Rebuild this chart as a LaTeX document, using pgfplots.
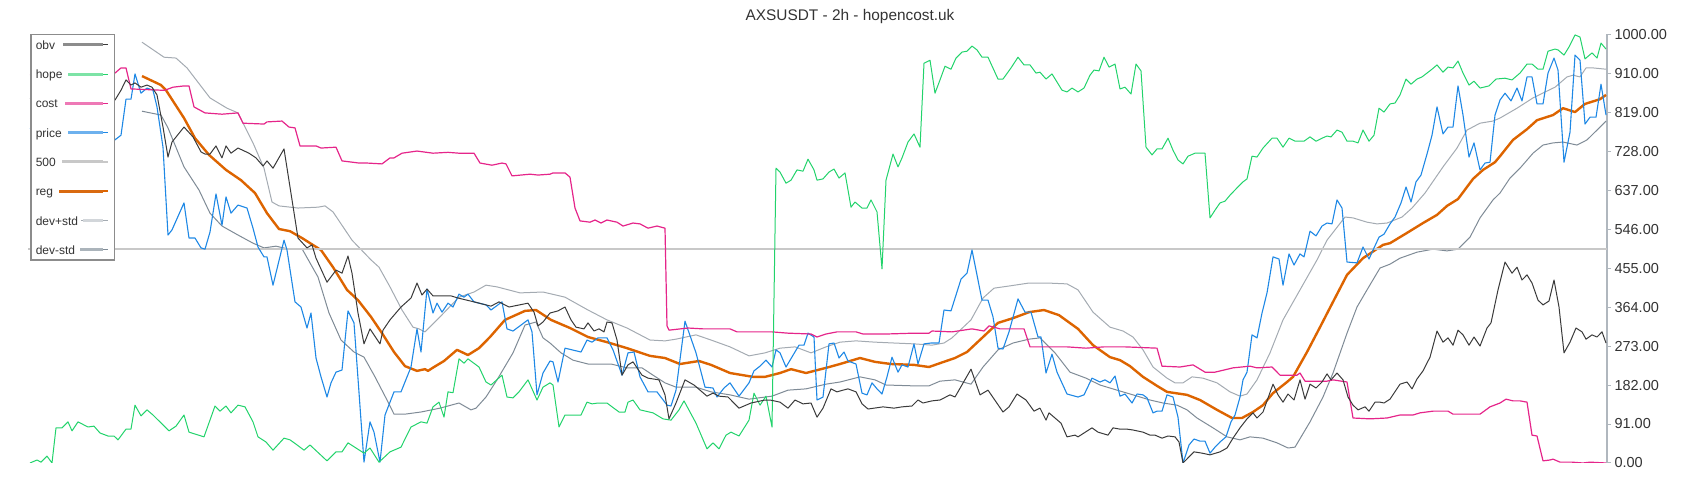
\documentclass[border=0pt]{standalone}
\usepackage{fontspec}
\setmainfont{Liberation Sans}
\usepackage{pgfplots}
\pgfplotsset{compat=1.18}
\definecolor{obvc}{HTML}{3A3A3A}
\definecolor{hopec}{HTML}{22D36B}
\definecolor{costc}{HTML}{E5258A}
\definecolor{pricec}{HTML}{1E88E5}
\definecolor{fivec}{HTML}{C8C8C8}
\definecolor{regc}{HTML}{DD6400}
\definecolor{devpc}{HTML}{A4ABB2}
\definecolor{devmc}{HTML}{7F8B96}
\definecolor{obvL}{HTML}{8C8C8C}
\definecolor{hopeL}{HTML}{7DE3A6}
\definecolor{costL}{HTML}{EE79B6}
\definecolor{priceL}{HTML}{6DB1EE}
\definecolor{fiveL}{HTML}{C8C8C8}
\definecolor{regL}{HTML}{D96A10}
\definecolor{devpL}{HTML}{D2D6DA}
\definecolor{devmL}{HTML}{ABB4BB}
\definecolor{axisc}{HTML}{B0B7BE}
\definecolor{labc}{HTML}{333333}
\definecolor{legc}{HTML}{8C8C8C}
\pgfplotsset{legimg/.style 2 args={legend image code/.code={\path (0pt,0pt) -- (27pt,0pt); \draw[overlay,draw=#1,line width=3pt] (#2,0pt) -- (22pt,0pt);}}}
\begin{document}
\begin{tikzpicture}
\path (0pt,0pt) rectangle (1700pt,500pt);
\begin{axis}[
 at={(28pt,37pt)}, anchor=south west,
 scale only axis, width=1579pt, height=428.5pt,
 xmin=28, xmax=1607, ymin=0, ymax=1000,
 axis x line=none, axis y line=right,
 y axis line style={-, draw=axisc, line width=1.5pt},
 ytick={0,91,182,273,364,455,546,637,728,819,910,1000},
 ytick style={draw=axisc, line width=1pt},
 ytick align=outside, major tick length=4pt,
 scaled y ticks=false,
 yticklabel style={font=\fontsize{14.5}{16}\selectfont, text=labc,
   /pgf/number format/fixed, /pgf/number format/fixed zerofill,
   /pgf/number format/precision=2, /pgf/number format/1000 sep={},
   /pgf/number format/assume math mode=true},
 title={AXSUSDT - 2h - hopencost.uk},
 title style={at={(0.5206,1.0175)}, anchor=base, font=\fontsize{15.4}{18}\selectfont, text=labc, inner sep=0pt},
 legend cell align=left,
 legend plot pos=right,
 reverse legend,
 legend style={at={(0.00127,1.0012)}, anchor=north west, draw=legc, line width=1.5pt, fill=white,
   inner xsep=5pt, inner ysep=4pt, row sep=17.3pt, column sep=2pt,
   font=\fontsize{12}{14}\selectfont, text=labc,
   nodes={inner sep=0pt, text height=10.5pt, text depth=1.5pt}},
 every axis plot/.append style={line join=round, mark=none},
]
% dev-std
\addplot[draw=devmc, line width=1pt, legimg={devmL}{-1pt}] coordinates {
(142,821)(161,812)(168,782)(184,691)(199,637)(210,583)(222,553)(238,532)(253,513)(264,502)(276,506)(287,500)(302,500)(318,434)(329,350)(341,287)(354,259)(364,247)(375,201)(387,147)(394,114)(405,114)(421,119)(440,128)(459,140)(471,124)(476,128)(486,154)(497,194)(513,257)(525,322)(536,329)(543,292)(550,280)(561,257)(573,240)(588,231)(611,231)(627,222)(642,222)(653,205)(665,187)(676,177)(696,177)(711,166)(730,159)(749,149)(772,156)(788,170)(806,173)(826,184)(840,189)(860,201)(875,194)(886,182)(914,180)(929,180)(940,191)(955,194)(971,184)(983,224)(998,264)(1013,280)(1029,289)(1040,292)(1055,257)(1070,212)(1086,198)(1100,182)(1117,170)(1133,159)(1150,147)(1163,140)(1177,135)(1187,124)(1197,105)(1213,82)(1227,61)(1240,54)(1250,61)(1263,58)(1277,47)(1288,35)(1295,37)(1310,96)(1323,154)(1333,210)(1347,303)(1357,364)(1367,404)(1380,455)(1390,464)(1400,478)(1417,492)(1433,499)(1447,495)(1458,499)(1470,527)(1480,572)(1493,614)(1500,630)(1510,665)(1520,688)(1533,723)(1543,742)(1553,747)(1563,749)(1577,742)(1587,754)(1597,777)(1606,798)
};
\addlegendentry{dev-std}
% dev+std
\addplot[draw=devpc, line width=1pt, legimg={devpL}{2pt}] coordinates {
(142,982)(164,947)(176,945)(187,922)(210,852)(227,828)(238,817)(253,747)(264,688)(272,609)(279,600)(298,595)(318,597)(325,600)(333,586)(352,520)(371,474)(379,457)(390,411)(402,357)(413,317)(419,313)(425,306)(440,341)(459,387)(474,399)(486,415)(497,411)(520,397)(543,399)(565,387)(588,357)(607,334)(627,315)(650,287)(665,285)(676,289)(696,299)(711,287)(730,271)(749,250)(765,257)(780,268)(795,271)(811,257)(826,271)(840,282)(856,285)(875,282)(894,280)(914,278)(932,275)(944,280)(952,292)(971,334)(983,385)(994,408)(1009,413)(1029,420)(1047,420)(1067,418)(1078,404)(1093,352)(1110,317)(1123,308)(1133,294)(1143,264)(1153,224)(1167,198)(1175,187)(1183,187)(1192,201)(1203,198)(1217,187)(1230,166)(1240,156)(1247,161)(1257,194)(1270,257)(1283,334)(1300,404)(1317,474)(1327,520)(1345,574)(1353,572)(1367,562)(1377,558)(1387,560)(1402,574)(1412,595)(1425,630)(1443,691)(1457,735)(1467,777)(1480,793)(1493,798)(1500,805)(1517,828)(1533,852)(1547,868)(1555,877)(1567,901)(1573,905)(1580,901)(1586,922)(1593,922)(1606,919)
};
\addlegendentry{dev+std}
% reg
\addplot[draw=regc, line width=2.4pt, legimg={regL}{-22pt}] coordinates {
(142,903)(161,882)(166,870)(184,805)(195,758)(209,719)(226,684)(241,660)(255,630)(267,583)(279,546)(290,541)(302,525)(321,497)(333,457)(347,404)(358,380)(371,341)(382,303)(394,259)(405,226)(417,215)(425,219)(428,215)(434,224)(444,238)(457,264)(468,252)(479,268)(490,294)(505,334)(525,355)(536,357)(551,334)(570,315)(588,294)(607,282)(627,268)(650,250)(665,245)(680,231)(699,238)(711,229)(730,210)(753,201)(765,201)(780,210)(791,219)(806,210)(826,222)(840,231)(860,245)(875,236)(891,231)(914,229)(929,224)(940,233)(955,245)(967,259)(983,294)(998,327)(1013,338)(1029,352)(1044,357)(1059,345)(1078,313)(1093,275)(1110,247)(1120,240)(1130,226)(1143,201)(1157,180)(1167,166)(1187,159)(1200,147)(1217,124)(1232,105)(1242,105)(1253,119)(1263,135)(1273,163)(1287,189)(1293,201)(1307,259)(1320,317)(1333,376)(1347,439)(1363,478)(1383,509)(1390,513)(1407,537)(1423,560)(1437,579)(1447,600)(1458,616)(1473,663)(1483,684)(1495,702)(1500,716)(1513,754)(1527,779)(1537,800)(1553,812)(1563,828)(1575,819)(1585,838)(1600,849)(1606,859)
};
\addlegendentry{reg}
% 500
\addplot[draw=fivec, line width=2pt, legimg={fiveL}{-19pt}] coordinates {(28,500)(1607,500)};
\addlegendentry{500}
% price
\addplot[draw=pricec, line width=1.1pt, legimg={priceL}{-13pt}] coordinates {
(30,780)(60,790)(90,770)(111,777)(115,754)(121,765)(126,849)(131,849)(135,908)(141,863)(147,875)(153,870)(157,831)(163,737)(168,532)(172,544)(184,607)(189,525)(195,525)(201,502)(205,499)(210,539)(216,628)(222,555)(226,621)(231,583)(238,602)(247,595)(253,548)(258,504)(264,481)(267,481)(273,415)(284,520)(287,497)(295,376)(301,364)(307,315)(311,350)(316,245)(321,201)(327,154)(331,187)(336,212)(342,217)(348,355)(354,327)(364,2)(370,96)(374,72)(380,2)(385,112)(394,166)(401,166)(411,224)(417,313)(421,259)(427,406)(433,350)(437,373)(442,352)(448,373)(453,364)(459,394)(464,387)(468,394)(474,376)(486,369)(491,357)(502,376)(507,313)(513,308)(528,334)(532,306)(537,159)(543,210)(550,238)(553,236)(558,189)(565,268)(581,259)(587,287)(592,282)(598,292)(607,292)(613,264)(622,205)(628,257)(634,259)(640,201)(648,166)(657,166)(667,135)(671,133)(676,170)(685,331)(696,257)(705,177)(713,175)(717,154)(724,175)(730,187)(739,156)(749,187)(754,215)(760,226)(766,240)(772,224)(776,264)(780,257)(786,224)(799,275)(804,275)(808,303)(814,294)(817,147)(823,154)(829,278)(834,280)(839,245)(844,259)(848,238)(856,231)(862,163)(867,159)(872,187)(877,173)(882,161)(887,201)(892,247)(898,212)(902,229)(908,224)(914,278)(918,231)(924,278)(931,280)(939,280)(944,357)(951,355)(961,429)(967,443)(972,497)(982,380)(988,380)(993,341)(998,268)(1003,266)(1009,306)(1018,383)(1025,352)(1031,352)(1038,294)(1041,294)(1046,210)(1052,254)(1057,212)(1067,161)(1078,154)(1084,159)(1092,198)(1100,189)(1105,194)(1110,187)(1115,203)(1120,156)(1125,161)(1132,140)(1137,161)(1143,159)(1147,152)(1153,117)(1157,121)(1162,121)(1167,159)(1173,154)(1178,107)(1183,0)(1189,42)(1194,56)(1200,51)(1205,51)(1210,23)(1215,37)(1220,49)(1226,61)(1231,96)(1235,112)(1240,154)(1243,194)(1247,212)(1252,299)(1257,292)(1262,350)(1267,397)(1273,481)(1279,476)(1283,415)(1289,488)(1294,462)(1300,488)(1304,481)(1310,541)(1316,530)(1322,553)(1327,560)(1332,558)(1337,614)(1342,595)(1347,469)(1357,467)(1363,504)(1369,476)(1374,502)(1379,527)(1384,534)(1390,558)(1395,574)(1401,607)(1406,644)(1411,609)(1416,656)(1421,672)(1427,721)(1432,765)(1437,831)(1443,768)(1448,784)(1453,784)(1458,880)(1463,812)(1469,714)(1474,747)(1480,684)(1485,700)(1490,702)(1495,812)(1500,847)(1505,863)(1511,845)(1517,875)(1522,845)(1527,901)(1532,901)(1537,838)(1543,838)(1548,910)(1554,945)(1558,917)(1564,702)(1570,772)(1575,952)(1580,940)(1585,791)(1590,807)(1596,807)(1601,884)(1606,812)
};
\addlegendentry{price}
% cost
\addplot[draw=costc, line width=1.2pt, legimg={costL}{-16pt}] coordinates {
(30,905)(60,912)(90,915)(111,912)(115,910)(121,922)(126,922)(131,873)(161,870)(165,870)(173,877)(184,880)(189,880)(194,831)(205,817)(222,814)(238,817)(243,793)(264,791)(267,796)(282,798)(289,784)(295,782)(300,740)(316,740)(321,735)(336,737)(342,705)(359,700)(367,700)(382,698)(390,712)(394,712)(402,723)(417,728)(433,723)(448,725)(459,723)(474,723)(480,700)(492,695)(502,700)(506,698)(512,670)(530,674)(538,672)(550,674)(553,677)(565,677)(570,667)(575,595)(580,565)(590,562)(595,567)(601,560)(607,567)(617,562)(623,553)(633,560)(640,558)(648,548)(657,553)(665,548)(667,320)(669,310)(688,315)(703,313)(714,313)(730,313)(737,306)(757,306)(772,306)(788,303)(811,301)(817,294)(826,301)(837,306)(856,306)(863,301)(886,301)(914,303)(929,303)(932,308)(952,306)(972,313)(984,308)(989,320)(1000,313)(1024,313)(1030,271)(1047,271)(1067,271)(1086,268)(1104,271)(1125,271)(1157,268)(1162,226)(1180,224)(1193,229)(1205,212)(1215,212)(1233,222)(1250,226)(1257,222)(1272,224)(1280,205)(1297,205)(1300,210)(1305,191)(1327,191)(1333,194)(1347,189)(1353,105)(1370,103)(1387,105)(1400,112)(1413,112)(1420,117)(1433,121)(1448,121)(1453,114)(1480,114)(1490,131)(1500,140)(1506,149)(1513,145)(1520,145)(1527,142)(1532,65)(1537,63)(1543,5)(1550,7)(1553,9)(1560,2)(1572,2)(1583,0)(1590,2)(1606,0)
};
\addlegendentry{cost}
% hope
\addplot[draw=hopec, line width=1pt, legimg={hopeL}{-13pt}] coordinates {
(30,0)(37,7)(41,2)(47,16)(52,0)(56,82)(62,82)(68,96)(72,75)(78,96)(88,84)(94,86)(100,70)(108,63)(114,63)(118,54)(126,79)(131,79)(135,135)(141,110)(147,124)(153,112)(169,75)(176,86)(184,112)(189,72)(204,61)(215,133)(220,121)(226,133)(231,117)(238,135)(245,131)(253,96)(258,61)(266,49)(273,30)(284,58)(290,54)(296,44)(304,30)(310,42)(327,5)(336,26)(342,26)(348,47)(364,23)(370,35)(379,2)(390,26)(401,37)(411,84)(421,96)(427,93)(433,131)(439,142)(444,107)(448,166)(453,164)(459,243)(464,233)(468,243)(479,224)(486,189)(491,182)(502,205)(507,154)(513,152)(519,166)(528,194)(537,147)(543,177)(550,187)(553,182)(559,84)(565,112)(581,112)(587,142)(592,138)(598,140)(607,140)(619,119)(625,119)(628,142)(633,147)(640,124)(653,117)(663,103)(671,100)(679,124)(684,145)(696,93)(707,33)(713,47)(719,33)(726,65)(731,72)(739,63)(749,100)(754,163)(760,135)(766,156)(772,84)(776,688)(780,679)(786,653)(791,660)(797,684)(803,681)(808,709)(814,684)(817,660)(823,663)(829,679)(834,686)(839,665)(845,677)(851,597)(855,609)(862,595)(867,595)(871,614)(877,586)(882,453)(886,660)(893,721)(898,691)(902,712)(908,749)(914,768)(920,737)(924,933)(930,940)(935,863)(940,894)(945,926)(951,919)(956,945)(962,959)(967,961)(972,973)(977,964)(982,947)(988,947)(998,896)(1003,896)(1011,922)(1018,947)(1024,929)(1030,929)(1036,910)(1040,912)(1046,896)(1052,908)(1062,870)(1067,866)(1072,875)(1078,866)(1084,875)(1090,905)(1094,917)(1099,915)(1104,947)(1109,924)(1115,931)(1120,873)(1125,877)(1131,861)(1136,931)(1141,915)(1146,737)(1152,719)(1157,733)(1162,733)(1168,758)(1173,730)(1178,707)(1183,698)(1188,716)(1195,723)(1205,723)(1210,572)(1215,590)(1220,607)(1225,611)(1230,625)(1237,642)(1243,656)(1247,663)(1252,716)(1257,714)(1263,735)(1272,758)(1277,758)(1283,737)(1289,758)(1295,751)(1304,751)(1310,761)(1316,751)(1322,758)(1327,763)(1331,761)(1337,777)(1342,772)(1347,751)(1353,751)(1358,747)(1363,777)(1369,751)(1374,765)(1379,828)(1384,819)(1390,838)(1395,840)(1400,859)(1406,896)(1411,884)(1417,896)(1422,901)(1427,910)(1432,919)(1437,929)(1443,912)(1448,924)(1453,922)(1458,938)(1463,910)(1469,882)(1474,891)(1480,875)(1489,880)(1496,896)(1505,898)(1512,894)(1520,910)(1527,931)(1532,931)(1538,919)(1543,919)(1548,961)(1555,966)(1558,964)(1564,952)(1569,971)(1575,999)(1580,994)(1585,943)(1592,957)(1597,945)(1601,980)(1606,966)
};
\addlegendentry{hope}
% obv
\addplot[draw=obvc, line width=1pt, legimg={obvL}{-18pt}] coordinates {
(30,850)(60,860)(90,845)(111,861)(115,847)(121,870)(126,894)(131,882)(135,887)(141,877)(147,882)(152,877)(157,859)(163,784)(168,714)(172,749)(184,784)(193,761)(201,726)(205,721)(210,721)(216,740)(222,712)(226,740)(231,723)(238,735)(249,723)(256,712)(263,693)(267,705)(273,688)(284,733)(290,644)(298,525)(307,502)(312,509)(316,478)(327,422)(336,450)(342,443)(348,483)(352,443)(358,350)(364,278)(370,313)(380,278)(383,310)(390,334)(401,364)(411,385)(417,420)(422,392)(427,406)(433,390)(451,390)(458,385)(474,376)(491,366)(499,376)(509,364)(528,373)(534,352)(538,320)(543,329)(550,350)(558,355)(565,364)(571,334)(576,317)(584,313)(588,327)(594,308)(599,313)(604,306)(607,329)(612,327)(617,287)(622,205)(628,229)(633,236)(642,205)(648,198)(659,194)(665,159)(669,103)(676,140)(685,194)(694,182)(707,156)(713,163)(719,156)(728,154)(739,128)(751,140)(765,147)(770,147)(780,142)(788,128)(795,147)(803,138)(811,140)(817,107)(823,128)(831,173)(837,166)(843,170)(848,173)(856,166)(862,138)(868,126)(883,131)(894,128)(902,131)(912,133)(918,147)(923,140)(932,145)(940,147)(950,159)(955,154)(971,219)(980,159)(988,170)(1003,119)(1009,131)(1017,161)(1026,147)(1034,121)(1040,128)(1046,100)(1049,117)(1061,93)(1067,61)(1075,65)(1078,61)(1092,82)(1098,72)(1108,65)(1113,82)(1120,79)(1127,79)(1133,77)(1143,72)(1150,65)(1155,65)(1162,58)(1168,63)(1175,61)(1179,49)(1183,0)(1194,26)(1202,23)(1210,19)(1220,26)(1227,35)(1233,58)(1240,82)(1247,103)(1253,117)(1257,105)(1263,119)(1273,184)(1278,159)(1283,142)(1288,161)(1294,147)(1300,194)(1305,149)(1310,184)(1316,175)(1322,189)(1327,208)(1331,194)(1337,210)(1343,194)(1348,154)(1353,135)(1358,124)(1365,131)(1369,121)(1375,142)(1380,142)(1384,140)(1390,149)(1400,184)(1407,189)(1412,173)(1417,196)(1423,215)(1430,247)(1437,308)(1443,282)(1448,292)(1453,275)(1458,310)(1463,299)(1469,275)(1474,294)(1480,273)(1487,315)(1491,327)(1498,404)(1505,469)(1512,443)(1517,457)(1522,427)(1527,439)(1532,420)(1538,380)(1543,369)(1549,378)(1554,427)(1559,364)(1564,257)(1570,282)(1576,315)(1582,306)(1586,289)(1592,299)(1597,294)(1602,306)(1606,280)
};
\addlegendentry{obv}
\end{axis}
\end{tikzpicture}
\end{document}
